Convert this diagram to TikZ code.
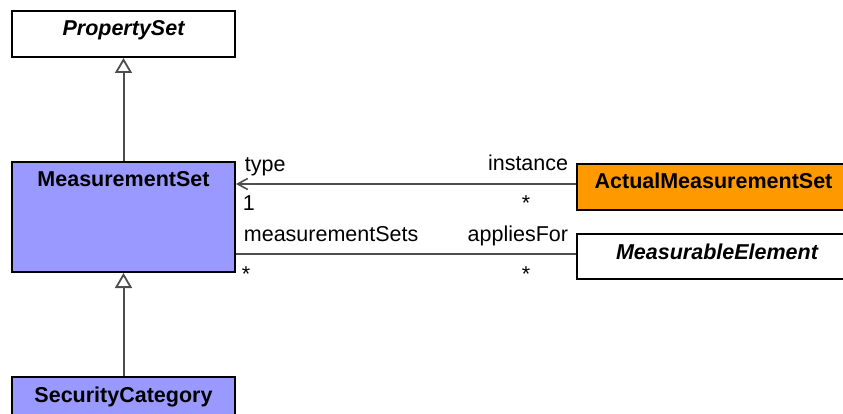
\documentclass[tikz,border=0pt]{standalone}
\usepackage{fontspec}
\setmainfont{Liberation Sans}
\usetikzlibrary{arrows.meta,positioning}

\definecolor{msblue}{HTML}{9999FF}
\definecolor{actorange}{HTML}{FF9900}
\definecolor{linegray}{HTML}{4D4D4D}
\newcommand\umlfont{\fontsize{21.5}{26}\selectfont}

\begin{document}
\begin{tikzpicture}[
  x=1pt, y=1pt,
  font=\umlfont,
  node distance=103pt,
  cls/.style={draw=black, line width=2pt, minimum width=223pt, inner xsep=2pt, inner ysep=0pt,
              text height=25pt, text depth=21pt, font=\umlfont\bfseries},
  abstract/.style={cls, font=\umlfont\bfseries\itshape},
  gen/.style={draw=linegray, line width=2pt, -{Triangle[open, length=15pt, width=17pt, line width=1.8pt]}},
  assoc/.style={draw=linegray, line width=1.8pt},
  nav/.style={-{Straight Barb[length=10pt, width=11pt, line width=1.6pt]}},
  role/.style={inner sep=0pt, font=\umlfont}
]
\useasboundingbox (0,0) rectangle (843,-414);

% Classes
\node[abstract, anchor=north west] (prop) at (11,-10) {PropertySet};
\node[cls, fill=msblue, text depth=85pt, below=of prop] (mset) {MeasurementSet};
\node[cls, fill=msblue, text depth=40pt, below=of mset] (sec) {SecurityCategory};
\node[cls, fill=actorange, minimum width=273pt, anchor=north west] (actual) at (576,-163) {ActualMeasurementSet};
\node[abstract, minimum width=280pt, text depth=20pt, anchor=north west] (measurable) at (576,-233) {MeasurableElement};

% Generalizations
\draw[gen] (mset) -- (prop);
\draw[gen] (sec) -- (mset);

% Associations
\draw[assoc, nav] ([yshift=3pt]actual.west) coordinate (instend) -- (instend -| mset.east)
  node[role, pos=1, anchor=base west, xshift=8pt, yshift=12pt] {type}
  node[role, pos=1, anchor=base west, xshift=6pt, yshift=-27pt] {1}
  node[role, pos=0, anchor=base east, xshift=-7pt, yshift=13pt] {instance}
  node[role, pos=0, anchor=base, xshift=-50pt, yshift=-27pt] {*};

\draw[assoc] ([yshift=2.5pt]measurable.west) coordinate (applend) -- (applend -| mset.east)
  node[role, pos=1, anchor=base west, xshift=7pt, yshift=13pt] {measurementSets}
  node[role, pos=1, anchor=base west, xshift=5pt, yshift=-27pt] {*}
  node[role, pos=0, anchor=base east, xshift=-7pt, yshift=13pt] {appliesFor}
  node[role, pos=0, anchor=base, xshift=-50pt, yshift=-27pt] {*};

\end{tikzpicture}
\end{document}
